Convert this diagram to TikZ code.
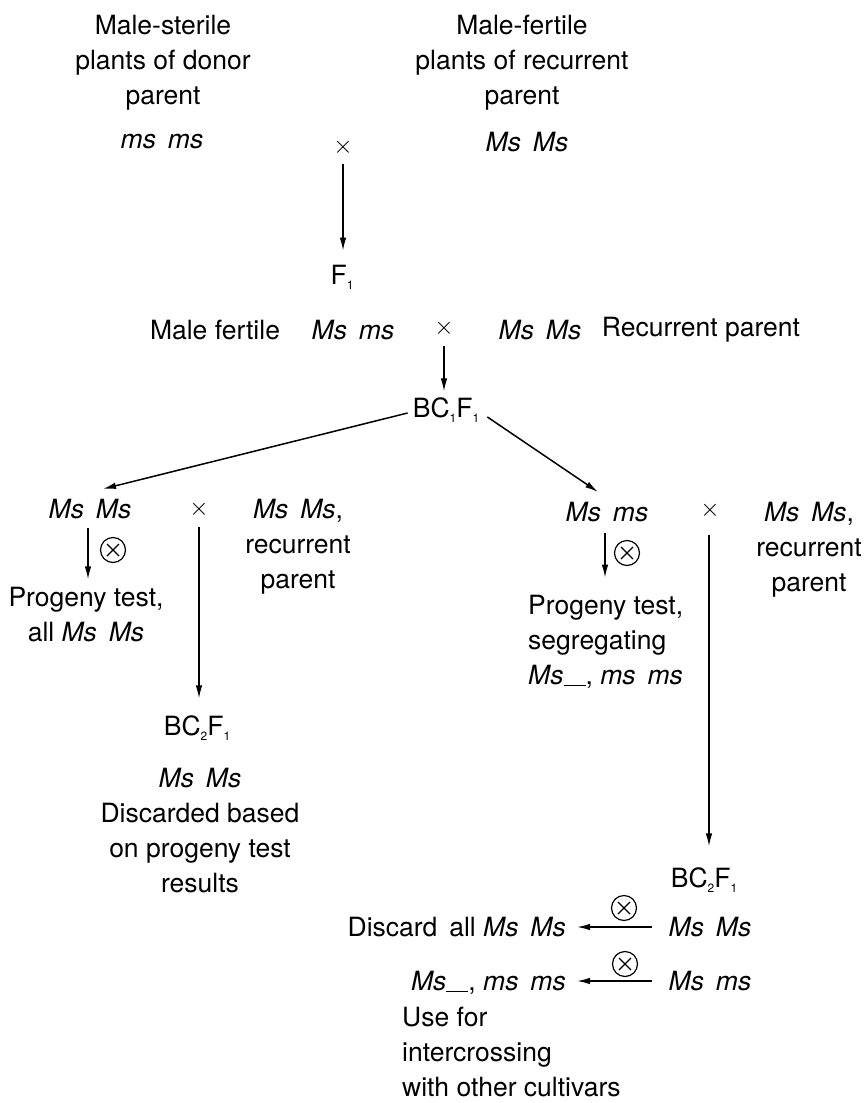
\documentclass[tikz,border=0pt]{standalone}
\usepackage{fontspec}
\setmainfont{TeX Gyre Heros}
\usetikzlibrary{arrows.meta}
\newcommand{\lidx}[1]{\raisebox{-0.35ex}{\fontsize{12}{12}\selectfont #1}}
\newcommand{\gsp}{\hspace{0.45em}}
\newcommand{\blankline}{\rule[-1.5pt]{22pt}{1.3pt}}
\begin{document}
\begin{tikzpicture}[x=1pt,y=-1pt,
  every node/.style={inner sep=0pt, font=\fontsize{26.5}{35}\selectfont},
  ml/.style={align=center},
  arr/.style={line width=1.5pt, -{Latex[length=13pt,width=6.5pt]}},
  otimesnode/.style={circle, draw, line width=1.2pt, minimum size=25pt, inner sep=0pt,
    path picture={\draw[line width=1.1pt]
      ([shift={(-6pt,-6pt)}]path picture bounding box.center) -- ([shift={(6pt,6pt)}]path picture bounding box.center)
      ([shift={(-6pt,6pt)}]path picture bounding box.center) -- ([shift={(6pt,-6pt)}]path picture bounding box.center);}},
  crossnode/.style={font=\fontsize{26}{26}\selectfont}
]
\useasboundingbox (0,0) rectangle (865,1103);

% top parents
\node[ml] (donor) at (163,63) {Male-sterile\\plants of donor\\parent};
\node (msms1) at (162,142) {\itshape ms\gsp ms};
\node[crossnode] (cross1) at (343,147) {$\times$};
\node[ml] (recur) at (522,63) {Male-fertile\\plants of recurrent\\parent};
\node (MsMs1) at (527,142) {\itshape Ms\gsp Ms};
\node (F1) at (342,277) {F\lidx{1}};

% F1 cross row
\node (mf) at (215,330) {Male fertile};
\node (Msms2) at (353,330) {\itshape Ms\gsp ms};
\node[crossnode] (cross2) at (444,328) {$\times$};
\node (MsMs2) at (540,330) {\itshape Ms\gsp Ms};
\node (rp) at (701,330) {Recurrent parent};
\node (BC1) at (446,410) {BC\lidx{1}F\lidx{1}};

% left branch
\node (LMsMs) at (90,509) {\itshape Ms\gsp Ms};
\node[crossnode] (cross3) at (199,509) {$\times$};
\node[ml] (Lrec) at (298,547) {\textit{Ms\gsp Ms},\\recurrent\\parent};
\node[otimesnode] (otL) at (113,550) {};
\node[ml] (Lprog) at (86,614.5) {Progeny test,\\all \textit{Ms\gsp Ms}};
\node (BC2L) at (197,728) {BC\lidx{2}F\lidx{1}};
\node[ml] (Lres) at (200,830.5) {\textit{Ms\gsp Ms}\\Discarded based\\on progeny test\\results};

% right branch
\node (RMsms) at (607,512) {\itshape Ms\gsp ms};
\node[crossnode] (cross4) at (710,510) {$\times$};
\node[ml] (Rrec) at (809,550) {\textit{Ms\gsp Ms},\\recurrent\\parent};
\node[otimesnode] (otR) at (627,553) {};
\node[align=left, anchor=west] (Rprog) at (528,642) {Progeny test,\\segregating\\\textit{Ms}\blankline, \textit{ms\gsp ms}};
\node (BC2R) at (704,880) {BC\lidx{2}F\lidx{1}};
\node (RMsMs3) at (710,927) {\itshape Ms\gsp Ms};
\node (RMsms3) at (710,981) {\itshape Ms\gsp ms};
\node[anchor=east] (discard) at (566,927) {Discard\gsp all \textit{Ms\gsp Ms}};
\node[otimesnode] (otD) at (624,908) {};
\node[anchor=east] (seg) at (566,983) {\textit{Ms}\blankline, \textit{ms\gsp ms}};
\node[otimesnode] (otU) at (625,964) {};
\node[align=left, anchor=west] (use) at (402,1052) {Use for\\intercrossing\\with other cultivars};

% connectors
\draw[arr, shorten <=9pt, shorten >=14pt] (cross1.south) -- (cross1.south |- F1.north);
\draw[arr, shorten <=10pt, shorten >=6pt] (cross2.south) -- (cross2.south |- BC1.north);
\draw[arr] ([xshift=-5pt,yshift=-3pt]BC1.west) -- ([xshift=13pt,yshift=10pt]LMsMs.north);
\draw[arr] ([xshift=8pt,yshift=-7pt]BC1.east) -- ([xshift=-9pt,yshift=10pt]RMsms.north);
\draw[arr, shorten <=8.5pt, shorten >=7.5pt] ([xshift=-2pt]LMsMs.south) -- ([xshift=-2pt]LMsMs.south |- Lprog.north);
\draw[arr, shorten <=9pt, shorten >=17pt] (cross3.south) -- (cross3.south |- BC2L.north);
\draw[arr, shorten <=10.5pt, shorten >=17.5pt] ([xshift=-2pt]RMsms.south) -- ([xshift=-2pt]RMsms.south |- Rprog.north);
\draw[arr, shorten <=16pt, shorten >=21pt] ([xshift=-1pt]cross4.south) -- ([xshift=-1pt]cross4.south |- BC2R.north);
\draw[arr, shorten <=16.5pt, shorten >=11pt] (RMsMs3.west) -- (RMsMs3.west -| discard.east);
\draw[arr, shorten <=17pt, shorten >=11pt] (RMsms3.west) -- (RMsms3.west -| seg.east);
\end{tikzpicture}
\end{document}
